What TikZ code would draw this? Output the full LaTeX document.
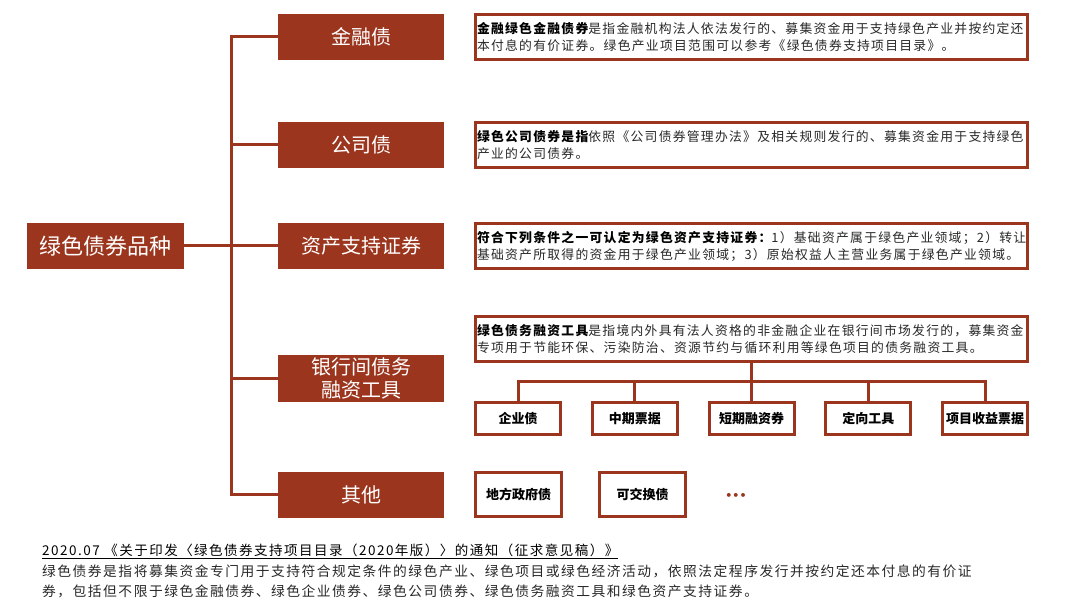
\documentclass[tikz,border=0pt]{standalone}
\usepackage{fontspec}
\setmainfont{Noto Sans CJK SC}
\newfontfamily\bodyfont{Noto Sans CJK SC}[LetterSpace=10]
\newfontfamily\footfont{Noto Sans CJK SC}[LetterSpace=11]
\newfontfamily\dotfont{DejaVu Sans}
\definecolor{brick}{RGB}{155,53,30}
\definecolor{ink}{RGB}{40,40,40}
\tikzset{
  catbox/.style={fill=brick, draw=none, text=white, minimum width=166pt, minimum height=46pt,
    inner sep=0pt, align=center, font=\fontsize{20}{23}\selectfont},
  rootbox/.style={catbox, minimum width=157pt, font=\fontsize{22}{24}\selectfont},
  descbox/.style={draw=brick, line width=3pt, fill=white, minimum width=552pt, minimum height=45pt,
    inner xsep=1.5pt, inner ysep=0pt, text width=549pt, align=left, text=ink,
    font=\bodyfont\fontsize{12.8}{17}\selectfont},
  smallbox/.style={draw=brick, line width=3pt, fill=white, minimum width=85pt, minimum height=32pt,
    inner sep=0pt, text=black, font=\fontsize{13}{15}\selectfont\bfseries},
  otherbox/.style={smallbox, minimum width=86pt, minimum height=44pt},
  conn/.style={draw=brick, line width=3pt},
}
\begin{document}
\begin{tikzpicture}[x=1pt,y=-1pt]
\useasboundingbox (0,0) rectangle (1080,601);
\coordinate (tx) at (231,0);
\coordinate (busy) at (0,381.5);

% root and categories
\node[rootbox] (root) at (105.5,246) {绿色债券品种};
\node[catbox] (c1) at (361,37) {金融债};
\node[catbox] (c2) at (361,145) {公司债};
\node[catbox] (c3) at (361,246) {资产支持证券};
\node[catbox, minimum height=47pt] (c4) at (361,378.5) {银行间债务\\融资工具};
\node[catbox] (c5) at (361,495) {其他};

% descriptions
\node[descbox] (d1) at (751.5,37) {\textbf{\color{black}金融绿色金融债券}是指金融机构法人依法发行的、募集资金用于支持绿色产业并按约定还\\本付息的有价证券。绿色产业项目范围可以参考《绿色债券支持项目目录》。};
\node[descbox] (d2) at (751.5,145.5) {\textbf{\color{black}绿色公司债券是指}依照《公司债券管理办法》及相关规则发行的、募集资金用于支持绿色\\产业的公司债券。};
\node[descbox] (d3) at (751.5,246.5) {\textbf{\color{black}符合下列条件之一可认定为绿色资产支持证券：}1）基础资产属于绿色产业领域；2）转让\\基础资产所取得的资金用于绿色产业领域；3）原始权益人主营业务属于绿色产业领域。};
\node[descbox] (d4) at (751.5,339.5) {\textbf{\color{black}绿色债务融资工具}是指境内外具有法人资格的非金融企业在银行间市场发行的，募集资金\\专项用于节能环保、污染防治、资源节约与循环利用等绿色项目的债务融资工具。};

% sub-instruments
\node[smallbox] (s1) at (518,418.5) {企业债};
\node[smallbox] (s2) at (634.75,418.5) {中期票据};
\node[smallbox] (s3) at (751.5,418.5) {短期融资券};
\node[smallbox] (s4) at (868.25,418.5) {定向工具};
\node[smallbox] (s5) at (985,418.5) {项目收益票据};

% others
\node[otherbox] (o1) at (518.5,494.5) {地方政府债};
\node[otherbox] (o2) at (642.5,494.5) {可交换债};
\node[text=brick, inner sep=0pt, font=\dotfont\bfseries\fontsize{11}{11}\selectfont] (dots) at (736,496) {•••};

% trunk connectors
\draw[conn] (c1.west) -- (c1.west -| tx) -- (c5.west -| tx) -- (c5.west);
\draw[conn] (c2.west -| tx) -- (c2.west);
\draw[conn] (c4.west -| tx) -- (c4.west);
\draw[conn] (root.east) -- (c3.west);

% bus to sub-instruments
\draw[conn] (d4.south) -- (d4.south |- busy);
\draw[conn] (s1.north) -- (s1.north |- busy) -- (s5.north |- busy) -- (s5.north);
\draw[conn] (s2.north |- busy) -- (s2.north);
\draw[conn] (s3.north |- busy) -- (s3.north);
\draw[conn] (s4.north |- busy) -- (s4.north);

% footnote
\node[anchor=west, inner sep=0pt, text=black, font=\footfont\fontsize{13.5}{16}\selectfont] (ft) at (42,551)
  {\underline{2020.07 《关于印发〈绿色债券支持项目目录（2020年版）〉的通知（征求意见稿）》}};
\node[anchor=west, inner sep=0pt, align=left, text=ink, font=\footfont\fontsize{13.75}{20}\selectfont] (fb) at (42,581)
  {绿色债券是指将募集资金专门用于支持符合规定条件的绿色产业、绿色项目或绿色经济活动，依照法定程序发行并按约定还本付息的有价证\\券，包括但不限于绿色金融债券、绿色企业债券、绿色公司债券、绿色债务融资工具和绿色资产支持证券。};
\end{tikzpicture}
\end{document}
